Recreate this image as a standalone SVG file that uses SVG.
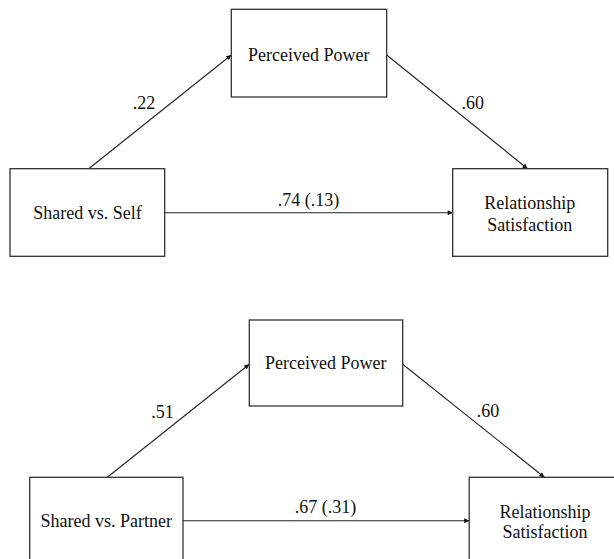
<svg xmlns="http://www.w3.org/2000/svg" width="614" height="559" viewBox="0 0 614 559">
<defs>
<marker id="ah" viewBox="0 0 10 10" refX="10" refY="5" markerWidth="6" markerHeight="5" orient="auto" markerUnits="userSpaceOnUse">
<path d="M0,0 L10,5 L0,10 Z" fill="#111"/>
</marker>
<style>
.box{fill:#fff;stroke:#333;stroke-width:1.3}
.lbl{font-family:"Liberation Serif","Times New Roman",serif;font-size:18px;fill:#111;text-anchor:middle}
.edge{stroke:#222;stroke-width:1.1;fill:none;marker-end:url(#ah)}
</style>
</defs>
<rect width="614" height="559" fill="#fff"/>
<g id="connectors">
<line class="edge" x1="88.7" y1="168.7" x2="231.3" y2="55"/>
<line class="edge" x1="386.7" y1="55" x2="527.5" y2="168.7"/>
<line class="edge" x1="164.7" y1="212.7" x2="452.7" y2="212.7"/>
<line class="edge" x1="107.3" y1="477.3" x2="249.3" y2="364.3"/>
<line class="edge" x1="402.7" y1="364.3" x2="544.4" y2="477.3"/>
<line class="edge" x1="183" y1="520.7" x2="469.2" y2="520.7"/>
</g>
<g id="edge-labels">
<text class="lbl" x="144" y="109.3">.22</text>
<text class="lbl" x="472.7" y="109.3">.60</text>
<text class="lbl" x="308.5" y="205.7">.74 (.13)</text>
<text class="lbl" x="162.5" y="417.7">.51</text>
<text class="lbl" x="488" y="417.3">.60</text>
<text class="lbl" x="325.5" y="513.3">.67 (.31)</text>
</g>
<g id="pp1">
<rect class="box" x="231.3" y="9.3" width="155.4" height="87.7"/>
<text class="lbl" x="308.7" y="60.7">Perceived Power</text>
</g>
<g id="self">
<rect class="box" x="10" y="168.7" width="154.7" height="87.6"/>
<text class="lbl" x="87.5" y="219.3">Shared vs. Self</text>
</g>
<g id="rs1">
<rect class="box" x="452.7" y="168.7" width="155" height="87.6"/>
<text class="lbl" x="529.8" y="209.3">Relationship</text>
<text class="lbl" x="529.8" y="231">Satisfaction</text>
</g>
<g id="pp2">
<rect class="box" x="249.3" y="320" width="153.4" height="86"/>
<text class="lbl" x="325.7" y="369.3">Perceived Power</text>
</g>
<g id="partner">
<rect class="box" x="29.7" y="477.3" width="153.3" height="87"/>
<text class="lbl" x="106.2" y="527.3">Shared vs. Partner</text>
</g>
<g id="rs2">
<rect class="box" x="469.2" y="477.3" width="155" height="87"/>
<text class="lbl" x="545" y="518.3">Relationship</text>
<text class="lbl" x="545" y="538.3">Satisfaction</text>
</g>
</svg>
